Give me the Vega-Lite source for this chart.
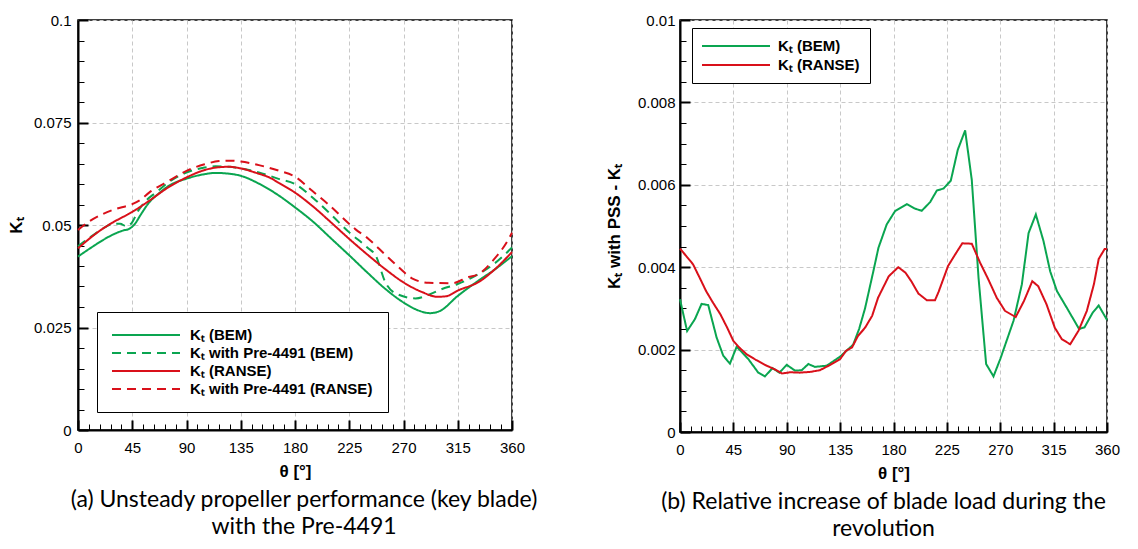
{
  "$schema": "https://vega.github.io/schema/vega-lite/v6.json",
  "background": "white",
  "padding": {"left": 6, "top": 12, "right": 5, "bottom": 5},
  "datasets": {
    "a": [
      {"series":"Kₜ (BEM)","theta":0,"kt":0.0423},{"series":"Kₜ (BEM)","theta":10,"kt":0.0443},{"series":"Kₜ (BEM)","theta":20,"kt":0.0462},{"series":"Kₜ (BEM)","theta":30,"kt":0.0478},{"series":"Kₜ (BEM)","theta":38,"kt":0.0487},{"series":"Kₜ (BEM)","theta":42,"kt":0.049},{"series":"Kₜ (BEM)","theta":47,"kt":0.0502},{"series":"Kₜ (BEM)","theta":52,"kt":0.0525},{"series":"Kₜ (BEM)","theta":59,"kt":0.0555},{"series":"Kₜ (BEM)","theta":67,"kt":0.0577},{"series":"Kₜ (BEM)","theta":75,"kt":0.0595},{"series":"Kₜ (BEM)","theta":90,"kt":0.0613},{"series":"Kₜ (BEM)","theta":105,"kt":0.0624},{"series":"Kₜ (BEM)","theta":114,"kt":0.0627},{"series":"Kₜ (BEM)","theta":122,"kt":0.0626},{"series":"Kₜ (BEM)","theta":135,"kt":0.062},{"series":"Kₜ (BEM)","theta":150,"kt":0.0601},{"series":"Kₜ (BEM)","theta":167,"kt":0.0571},{"series":"Kₜ (BEM)","theta":180,"kt":0.0543},{"series":"Kₜ (BEM)","theta":195,"kt":0.0508},{"series":"Kₜ (BEM)","theta":210,"kt":0.0467},{"series":"Kₜ (BEM)","theta":225,"kt":0.0426},{"series":"Kₜ (BEM)","theta":240,"kt":0.0384},{"series":"Kₜ (BEM)","theta":255,"kt":0.0344},{"series":"Kₜ (BEM)","theta":270,"kt":0.0311},{"series":"Kₜ (BEM)","theta":282,"kt":0.0292},{"series":"Kₜ (BEM)","theta":292,"kt":0.0285},{"series":"Kₜ (BEM)","theta":300,"kt":0.029},{"series":"Kₜ (BEM)","theta":315,"kt":0.0327},{"series":"Kₜ (BEM)","theta":334,"kt":0.0368},{"series":"Kₜ (BEM)","theta":345,"kt":0.039},{"series":"Kₜ (BEM)","theta":360,"kt":0.0424},

      {"series":"Kₜ with Pre-4491 (BEM)","theta":0,"kt":0.0448},{"series":"Kₜ with Pre-4491 (BEM)","theta":10,"kt":0.047},{"series":"Kₜ with Pre-4491 (BEM)","theta":20,"kt":0.049},{"series":"Kₜ with Pre-4491 (BEM)","theta":28,"kt":0.0502},{"series":"Kₜ with Pre-4491 (BEM)","theta":35,"kt":0.0503},{"series":"Kₜ with Pre-4491 (BEM)","theta":40,"kt":0.0497},{"series":"Kₜ with Pre-4491 (BEM)","theta":44,"kt":0.0503},{"series":"Kₜ with Pre-4491 (BEM)","theta":50,"kt":0.0535},{"series":"Kₜ with Pre-4491 (BEM)","theta":55,"kt":0.0555},{"series":"Kₜ with Pre-4491 (BEM)","theta":65,"kt":0.058},{"series":"Kₜ with Pre-4491 (BEM)","theta":75,"kt":0.0604},{"series":"Kₜ with Pre-4491 (BEM)","theta":90,"kt":0.0628},{"series":"Kₜ with Pre-4491 (BEM)","theta":105,"kt":0.064},{"series":"Kₜ with Pre-4491 (BEM)","theta":114,"kt":0.0643},{"series":"Kₜ with Pre-4491 (BEM)","theta":125,"kt":0.0642},{"series":"Kₜ with Pre-4491 (BEM)","theta":135,"kt":0.0638},{"series":"Kₜ with Pre-4491 (BEM)","theta":150,"kt":0.0628},{"series":"Kₜ with Pre-4491 (BEM)","theta":167,"kt":0.0612},{"series":"Kₜ with Pre-4491 (BEM)","theta":180,"kt":0.06},{"series":"Kₜ with Pre-4491 (BEM)","theta":195,"kt":0.0566},{"series":"Kₜ with Pre-4491 (BEM)","theta":210,"kt":0.0525},{"series":"Kₜ with Pre-4491 (BEM)","theta":225,"kt":0.0482},{"series":"Kₜ with Pre-4491 (BEM)","theta":240,"kt":0.0445},{"series":"Kₜ with Pre-4491 (BEM)","theta":247,"kt":0.0425},{"series":"Kₜ with Pre-4491 (BEM)","theta":255,"kt":0.036},{"series":"Kₜ with Pre-4491 (BEM)","theta":263,"kt":0.0334},{"series":"Kₜ with Pre-4491 (BEM)","theta":280,"kt":0.0321},{"series":"Kₜ with Pre-4491 (BEM)","theta":292,"kt":0.0331},{"series":"Kₜ with Pre-4491 (BEM)","theta":302,"kt":0.0344},{"series":"Kₜ with Pre-4491 (BEM)","theta":315,"kt":0.0356},{"series":"Kₜ with Pre-4491 (BEM)","theta":332,"kt":0.038},{"series":"Kₜ with Pre-4491 (BEM)","theta":345,"kt":0.0405},{"series":"Kₜ with Pre-4491 (BEM)","theta":360,"kt":0.0445},

      {"series":"Kₜ (RANSE)","theta":0,"kt":0.0443},{"series":"Kₜ (RANSE)","theta":10,"kt":0.0468},{"series":"Kₜ (RANSE)","theta":20,"kt":0.049},{"series":"Kₜ (RANSE)","theta":30,"kt":0.0508},{"series":"Kₜ (RANSE)","theta":45,"kt":0.0532},{"series":"Kₜ (RANSE)","theta":52,"kt":0.0545},{"series":"Kₜ (RANSE)","theta":59,"kt":0.0559},{"series":"Kₜ (RANSE)","theta":75,"kt":0.0592},{"series":"Kₜ (RANSE)","theta":90,"kt":0.0616},{"series":"Kₜ (RANSE)","theta":105,"kt":0.0634},{"series":"Kₜ (RANSE)","theta":117,"kt":0.0641},{"series":"Kₜ (RANSE)","theta":125,"kt":0.0642},{"series":"Kₜ (RANSE)","theta":135,"kt":0.0638},{"series":"Kₜ (RANSE)","theta":150,"kt":0.0625},{"series":"Kₜ (RANSE)","theta":158,"kt":0.0617},{"series":"Kₜ (RANSE)","theta":167,"kt":0.0602},{"series":"Kₜ (RANSE)","theta":180,"kt":0.0579},{"series":"Kₜ (RANSE)","theta":195,"kt":0.0545},{"series":"Kₜ (RANSE)","theta":210,"kt":0.0506},{"series":"Kₜ (RANSE)","theta":225,"kt":0.0466},{"series":"Kₜ (RANSE)","theta":240,"kt":0.0428},{"series":"Kₜ (RANSE)","theta":255,"kt":0.0392},{"series":"Kₜ (RANSE)","theta":270,"kt":0.036},{"series":"Kₜ (RANSE)","theta":285,"kt":0.0337},{"series":"Kₜ (RANSE)","theta":298,"kt":0.0325},{"series":"Kₜ (RANSE)","theta":305,"kt":0.0326},{"series":"Kₜ (RANSE)","theta":315,"kt":0.034},{"series":"Kₜ (RANSE)","theta":334,"kt":0.0364},{"series":"Kₜ (RANSE)","theta":345,"kt":0.039},{"series":"Kₜ (RANSE)","theta":360,"kt":0.0434},

      {"series":"Kₜ with Pre-4491 (RANSE)","theta":0,"kt":0.0488},{"series":"Kₜ with Pre-4491 (RANSE)","theta":10,"kt":0.051},{"series":"Kₜ with Pre-4491 (RANSE)","theta":20,"kt":0.0526},{"series":"Kₜ with Pre-4491 (RANSE)","theta":30,"kt":0.0538},{"series":"Kₜ with Pre-4491 (RANSE)","theta":45,"kt":0.0551},{"series":"Kₜ with Pre-4491 (RANSE)","theta":52,"kt":0.0562},{"series":"Kₜ with Pre-4491 (RANSE)","theta":59,"kt":0.0579},{"series":"Kₜ with Pre-4491 (RANSE)","theta":75,"kt":0.0607},{"series":"Kₜ with Pre-4491 (RANSE)","theta":90,"kt":0.0632},{"series":"Kₜ with Pre-4491 (RANSE)","theta":105,"kt":0.0648},{"series":"Kₜ with Pre-4491 (RANSE)","theta":117,"kt":0.0656},{"series":"Kₜ with Pre-4491 (RANSE)","theta":125,"kt":0.0657},{"series":"Kₜ with Pre-4491 (RANSE)","theta":135,"kt":0.0655},{"series":"Kₜ with Pre-4491 (RANSE)","theta":150,"kt":0.0646},{"series":"Kₜ with Pre-4491 (RANSE)","theta":167,"kt":0.0632},{"series":"Kₜ with Pre-4491 (RANSE)","theta":180,"kt":0.0618},{"series":"Kₜ with Pre-4491 (RANSE)","theta":194,"kt":0.0584},{"series":"Kₜ with Pre-4491 (RANSE)","theta":207,"kt":0.0552},{"series":"Kₜ with Pre-4491 (RANSE)","theta":230,"kt":0.049},{"series":"Kₜ with Pre-4491 (RANSE)","theta":241,"kt":0.0466},{"series":"Kₜ with Pre-4491 (RANSE)","theta":254,"kt":0.043},{"series":"Kₜ with Pre-4491 (RANSE)","theta":266,"kt":0.0397},{"series":"Kₜ with Pre-4491 (RANSE)","theta":277,"kt":0.037},{"series":"Kₜ with Pre-4491 (RANSE)","theta":291,"kt":0.0359},{"series":"Kₜ with Pre-4491 (RANSE)","theta":310,"kt":0.0358},{"series":"Kₜ with Pre-4491 (RANSE)","theta":324,"kt":0.0373},{"series":"Kₜ with Pre-4491 (RANSE)","theta":332,"kt":0.038},{"series":"Kₜ with Pre-4491 (RANSE)","theta":345,"kt":0.0416},{"series":"Kₜ with Pre-4491 (RANSE)","theta":355,"kt":0.0455},{"series":"Kₜ with Pre-4491 (RANSE)","theta":360,"kt":0.0481}
    ],
    "b": [
      {"series":"Kₜ (BEM)","theta":0,"d":0.00322},{"series":"Kₜ (BEM)","theta":6,"d":0.00245},{"series":"Kₜ (BEM)","theta":12.6,"d":0.00274},{"series":"Kₜ (BEM)","theta":18.2,"d":0.00311},{"series":"Kₜ (BEM)","theta":23.8,"d":0.00308},{"series":"Kₜ (BEM)","theta":30.9,"d":0.00229},{"series":"Kₜ (BEM)","theta":36.5,"d":0.00185},{"series":"Kₜ (BEM)","theta":42.1,"d":0.00166},{"series":"Kₜ (BEM)","theta":47.8,"d":0.00207},{"series":"Kₜ (BEM)","theta":57.6,"d":0.00177},{"series":"Kₜ (BEM)","theta":66,"d":0.00144},{"series":"Kₜ (BEM)","theta":71.6,"d":0.00135},{"series":"Kₜ (BEM)","theta":78,"d":0.00155},{"series":"Kₜ (BEM)","theta":83.8,"d":0.00144},{"series":"Kₜ (BEM)","theta":90,"d":0.00163},{"series":"Kₜ (BEM)","theta":97,"d":0.00149},{"series":"Kₜ (BEM)","theta":102.6,"d":0.0015},{"series":"Kₜ (BEM)","theta":108.2,"d":0.00165},{"series":"Kₜ (BEM)","theta":113.8,"d":0.00158},{"series":"Kₜ (BEM)","theta":123.7,"d":0.00161},{"series":"Kₜ (BEM)","theta":135,"d":0.00183},{"series":"Kₜ (BEM)","theta":146,"d":0.00212},{"series":"Kₜ (BEM)","theta":151,"d":0.0025},{"series":"Kₜ (BEM)","theta":156,"d":0.003},{"series":"Kₜ (BEM)","theta":163,"d":0.0039},{"series":"Kₜ (BEM)","theta":167.3,"d":0.00447},{"series":"Kₜ (BEM)","theta":174.3,"d":0.00504},{"series":"Kₜ (BEM)","theta":181.3,"d":0.00536},{"series":"Kₜ (BEM)","theta":191.2,"d":0.00553},{"series":"Kₜ (BEM)","theta":198.2,"d":0.00542},{"series":"Kₜ (BEM)","theta":203.8,"d":0.00537},{"series":"Kₜ (BEM)","theta":210.9,"d":0.00558},{"series":"Kₜ (BEM)","theta":216.5,"d":0.00586},{"series":"Kₜ (BEM)","theta":222.2,"d":0.00591},{"series":"Kₜ (BEM)","theta":228.3,"d":0.0061},{"series":"Kₜ (BEM)","theta":234.2,"d":0.00685},{"series":"Kₜ (BEM)","theta":240.4,"d":0.00732},{"series":"Kₜ (BEM)","theta":246,"d":0.00612},{"series":"Kₜ (BEM)","theta":251.7,"d":0.00374},{"series":"Kₜ (BEM)","theta":258.1,"d":0.00165},{"series":"Kₜ (BEM)","theta":264.3,"d":0.00135},{"series":"Kₜ (BEM)","theta":270,"d":0.00177},{"series":"Kₜ (BEM)","theta":281.2,"d":0.0027},{"series":"Kₜ (BEM)","theta":288.2,"d":0.00358},{"series":"Kₜ (BEM)","theta":293.9,"d":0.00483},{"series":"Kₜ (BEM)","theta":300,"d":0.00528},{"series":"Kₜ (BEM)","theta":306.5,"d":0.00463},{"series":"Kₜ (BEM)","theta":312.1,"d":0.0039},{"series":"Kₜ (BEM)","theta":317.8,"d":0.00342},{"series":"Kₜ (BEM)","theta":326,"d":0.00302},{"series":"Kₜ (BEM)","theta":336.5,"d":0.0025},{"series":"Kₜ (BEM)","theta":341,"d":0.00254},{"series":"Kₜ (BEM)","theta":348,"d":0.0029},{"series":"Kₜ (BEM)","theta":353,"d":0.00307},{"series":"Kₜ (BEM)","theta":360,"d":0.00272},

      {"series":"Kₜ (RANSE)","theta":0,"d":0.00445},{"series":"Kₜ (RANSE)","theta":5,"d":0.00428},{"series":"Kₜ (RANSE)","theta":11,"d":0.00407},{"series":"Kₜ (RANSE)","theta":17,"d":0.00372},{"series":"Kₜ (RANSE)","theta":22,"d":0.00342},{"series":"Kₜ (RANSE)","theta":28,"d":0.00313},{"series":"Kₜ (RANSE)","theta":34,"d":0.00286},{"series":"Kₜ (RANSE)","theta":40,"d":0.00252},{"series":"Kₜ (RANSE)","theta":45,"d":0.00221},{"series":"Kₜ (RANSE)","theta":50,"d":0.00205},{"series":"Kₜ (RANSE)","theta":56,"d":0.00189},{"series":"Kₜ (RANSE)","theta":64,"d":0.00175},{"series":"Kₜ (RANSE)","theta":73,"d":0.00161},{"series":"Kₜ (RANSE)","theta":80,"d":0.00152},{"series":"Kₜ (RANSE)","theta":86,"d":0.00142},{"series":"Kₜ (RANSE)","theta":93,"d":0.00145},{"series":"Kₜ (RANSE)","theta":101,"d":0.00144},{"series":"Kₜ (RANSE)","theta":110,"d":0.00146},{"series":"Kₜ (RANSE)","theta":118,"d":0.0015},{"series":"Kₜ (RANSE)","theta":126,"d":0.00162},{"series":"Kₜ (RANSE)","theta":135,"d":0.00177},{"series":"Kₜ (RANSE)","theta":140,"d":0.00197},{"series":"Kₜ (RANSE)","theta":145,"d":0.00205},{"series":"Kₜ (RANSE)","theta":150,"d":0.00233},{"series":"Kₜ (RANSE)","theta":156,"d":0.00253},{"series":"Kₜ (RANSE)","theta":162,"d":0.00282},{"series":"Kₜ (RANSE)","theta":167,"d":0.00326},{"series":"Kₜ (RANSE)","theta":176,"d":0.00378},{"series":"Kₜ (RANSE)","theta":184,"d":0.004},{"series":"Kₜ (RANSE)","theta":190,"d":0.00387},{"series":"Kₜ (RANSE)","theta":195,"d":0.00366},{"series":"Kₜ (RANSE)","theta":201,"d":0.00336},{"series":"Kₜ (RANSE)","theta":208,"d":0.0032},{"series":"Kₜ (RANSE)","theta":215,"d":0.0032},{"series":"Kₜ (RANSE)","theta":218,"d":0.0034},{"series":"Kₜ (RANSE)","theta":226,"d":0.00403},{"series":"Kₜ (RANSE)","theta":232,"d":0.00431},{"series":"Kₜ (RANSE)","theta":238,"d":0.00458},{"series":"Kₜ (RANSE)","theta":246,"d":0.00457},{"series":"Kₜ (RANSE)","theta":253,"d":0.00411},{"series":"Kₜ (RANSE)","theta":260,"d":0.0037},{"series":"Kₜ (RANSE)","theta":267,"d":0.00326},{"series":"Kₜ (RANSE)","theta":274,"d":0.00294},{"series":"Kₜ (RANSE)","theta":283,"d":0.00279},{"series":"Kₜ (RANSE)","theta":290,"d":0.00318},{"series":"Kₜ (RANSE)","theta":297,"d":0.00366},{"series":"Kₜ (RANSE)","theta":302,"d":0.00354},{"series":"Kₜ (RANSE)","theta":309,"d":0.0031},{"series":"Kₜ (RANSE)","theta":316,"d":0.00253},{"series":"Kₜ (RANSE)","theta":322,"d":0.00225},{"series":"Kₜ (RANSE)","theta":329,"d":0.00213},{"series":"Kₜ (RANSE)","theta":336,"d":0.00246},{"series":"Kₜ (RANSE)","theta":343,"d":0.00294},{"series":"Kₜ (RANSE)","theta":349,"d":0.00359},{"series":"Kₜ (RANSE)","theta":353,"d":0.0042},{"series":"Kₜ (RANSE)","theta":358,"d":0.00444},{"series":"Kₜ (RANSE)","theta":360,"d":0.00444}
    ]
  },
  "config": {
    "font": "Liberation Sans",
    "view": {"stroke": "black", "strokeWidth": 1.5},
    "axis": {
      "domainColor": "black", "domainWidth": 2, "tickColor": "black",
      "labelFont": "Liberation Sans", "labelFontSize": 15, "labelColor": "black",
      "titleFont": "Liberation Sans", "titleFontSize": 17, "titleFontWeight": "bold", "titleColor": "black",
      "gridColor": "#c8c8c8", "gridDash": [4, 3], "gridWidth": 1,
      "labelOverlap": false, "labelFlush": false
    },
    "legend": {
      "labelFont": "Liberation Sans", "labelFontSize": 15, "labelFontWeight": "bold", "labelColor": "black",
      "strokeColor": "black", "fillColor": "white", "labelLimit": 400
    }
  },
  "spacing": 65,
  "resolve": {
    "scale": {"color": "independent", "strokeDash": "independent"},
    "legend": {"color": "independent", "strokeDash": "independent"}
  },
  "hconcat": [
    {
      "width": 434, "height": 410,
      "title": {"text": ["(a) Unsteady propeller performance (key blade)", "with the Pre-4491"], "orient": "bottom", "anchor": "middle", "frame": "group", "font": "Lato", "fontSize": 23, "fontWeight": "normal", "color": "black", "lineHeight": 27, "offset": 10, "dx": 9},
      "data": {"name": "a"},
      "mark": {"type": "line", "strokeWidth": 2, "interpolate": "monotone"},
      "encoding": {
        "x": {"field": "theta", "type": "quantitative", "title": "θ [°]",
          "scale": {"domain": [0, 360], "nice": false, "zero": false},
          "axis": {"values": [0,9,18,27,36,45,54,63,72,81,90,99,108,117,126,135,144,153,162,171,180,189,198,207,216,225,234,243,252,261,270,279,288,297,306,315,324,333,342,351,360],
            "labelExpr": "datum.value % 45 === 0 ? datum.label : ''",
            "tickSize": {"condition": {"test": "datum.value % 45 === 0", "value": -10}, "value": -6},
            "tickWidth": {"condition": {"test": "datum.value % 45 === 0", "value": 2}, "value": 1},
            "gridOpacity": {"condition": {"test": "datum.value % 45 === 0", "value": 1}, "value": 0},
            "labelPadding": 20, "titlePadding": 4}},
        "y": {"field": "kt", "type": "quantitative", "title": "Kₜ",
          "scale": {"domain": [0, 0.1], "nice": false},
          "axis": {"values": [0,0.005,0.01,0.015,0.02,0.025,0.03,0.035,0.04,0.045,0.05,0.055,0.06,0.065,0.07,0.075,0.08,0.085,0.09,0.095,0.1],
            "labelExpr": "round(datum.value*1000) % 25 === 0 ? format(datum.value, '~g') : ''",
            "tickSize": {"condition": {"test": "round(datum.value*1000) % 25 === 0", "value": -10}, "value": -6},
            "tickWidth": {"condition": {"test": "round(datum.value*1000) % 25 === 0", "value": 2}, "value": 1},
            "gridOpacity": {"condition": {"test": "round(datum.value*1000) % 25 === 0", "value": 1}, "value": 0},
            "labelPadding": 17, "titlePadding": 8}},
        "color": {"field": "series", "type": "nominal",
          "scale": {"domain": ["Kₜ (BEM)", "Kₜ with Pre-4491 (BEM)", "Kₜ (RANSE)", "Kₜ with Pre-4491 (RANSE)"], "range": ["#0aa550", "#0aa550", "#d9101a", "#d9101a"]},
          "legend": {"title": null, "orient": "none", "legendX": 19, "legendY": 292, "padding": 15, "rowPadding": 2,
            "symbolType": "M-5,0H5", "symbolSize": 185, "symbolStrokeWidth": 2, "symbolOffset": 26, "labelOffset": 36}},
        "strokeDash": {"field": "series", "type": "nominal",
          "scale": {"domain": ["Kₜ (BEM)", "Kₜ with Pre-4491 (BEM)", "Kₜ (RANSE)", "Kₜ with Pre-4491 (RANSE)"], "range": [[1, 0], [9, 6], [1, 0], [9, 6]]}}
      }
    },
    {
      "width": 427, "height": 412,
      "title": {"text": ["(b) Relative increase of blade load during the", "revolution"], "orient": "bottom", "anchor": "middle", "frame": "group", "font": "Lato", "fontSize": 23, "fontWeight": "normal", "color": "black", "lineHeight": 27, "offset": 10, "dx": -10},
      "data": {"name": "b"},
      "mark": {"type": "line", "strokeWidth": 2},
      "encoding": {
        "x": {"field": "theta", "type": "quantitative", "title": "θ [°]",
          "scale": {"domain": [0, 360], "nice": false, "zero": false},
          "axis": {"values": [0,9,18,27,36,45,54,63,72,81,90,99,108,117,126,135,144,153,162,171,180,189,198,207,216,225,234,243,252,261,270,279,288,297,306,315,324,333,342,351,360],
            "labelExpr": "datum.value % 45 === 0 ? datum.label : ''",
            "tickSize": {"condition": {"test": "datum.value % 45 === 0", "value": -10}, "value": -6},
            "tickWidth": {"condition": {"test": "datum.value % 45 === 0", "value": 2}, "value": 1},
            "gridOpacity": {"condition": {"test": "datum.value % 45 === 0", "value": 1}, "value": 0},
            "labelPadding": 20, "titlePadding": 4}},
        "y": {"field": "d", "type": "quantitative", "title": "Kₜ with PSS - Kₜ",
          "scale": {"domain": [0, 0.01], "nice": false},
          "axis": {"values": [0,0.0005,0.001,0.0015,0.002,0.0025,0.003,0.0035,0.004,0.0045,0.005,0.0055,0.006,0.0065,0.007,0.0075,0.008,0.0085,0.009,0.0095,0.01],
            "labelExpr": "round(datum.value*10000) % 20 === 0 ? format(datum.value, '~g') : ''",
            "tickSize": {"condition": {"test": "round(datum.value*10000) % 20 === 0", "value": -10}, "value": -6},
            "tickWidth": {"condition": {"test": "round(datum.value*10000) % 20 === 0", "value": 2}, "value": 1},
            "gridOpacity": {"condition": {"test": "round(datum.value*10000) % 20 === 0", "value": 1}, "value": 0},
            "labelPadding": 15, "titlePadding": 14}},
        "color": {"field": "series", "type": "nominal",
          "scale": {"domain": ["Kₜ (BEM)", "Kₜ (RANSE)"], "range": ["#0aa550", "#d9101a"]},
          "legend": {"title": null, "orient": "none", "legendX": 12, "legendY": 8, "padding": 10, "rowPadding": 3,
            "symbolType": "M-5,0H5", "symbolSize": 185, "symbolStrokeWidth": 2, "symbolOffset": 26, "labelOffset": 34}},
        "strokeDash": {"field": "series", "type": "nominal",
          "scale": {"domain": ["Kₜ (BEM)", "Kₜ (RANSE)"], "range": [[1, 0], [1, 0]]}}
      }
    }
  ]
}
